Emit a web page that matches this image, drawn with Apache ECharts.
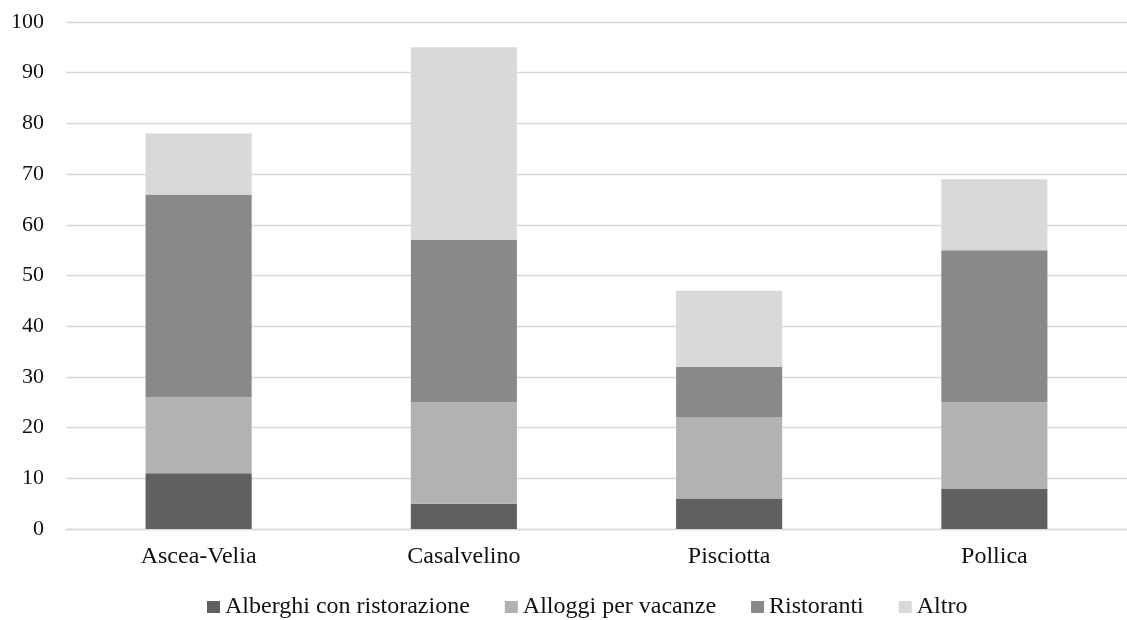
<!DOCTYPE html>
<html><head><meta charset="utf-8">
<script src="https://cdn.jsdelivr.net/npm/echarts@6/dist/echarts.min.js"></script>
<style>html,body{margin:0;padding:0;background:#fff;overflow:hidden}#c{width:1127px;height:620px}</style>
</head><body><div id="c"></div>
<script>
const categories = ['Ascea-Velia', 'Casalvelino', 'Pisciotta', 'Pollica'];
const alberghi = [11, 5, 6, 8];
const alloggi = [15, 20, 16, 17];
const ristoranti = [40, 32, 10, 30];
const altro = [12, 38, 15, 14];
const seriesNames = ['Alberghi con ristorazione', 'Alloggi per vacanze', 'Ristoranti', 'Altro'];
const colors = ['#606060', '#b2b2b2', '#898989', '#d9d9d9'];
const font = 'Liberation Serif';
const chart = echarts.init(document.getElementById('c'));
const data = [alberghi, alloggi, ristoranti, altro];
chart.setOption({
  animation: false,
  textStyle: { fontFamily: font },
  grid: { left: 66, right: -11, top: 22, bottom: 91 },
  legend: {
    top: 595, left: 207, padding: 0, itemWidth: 13, itemHeight: 12, itemGap: 35,
    icon: 'rect',
    textStyle: { fontFamily: font, fontSize: 24, color: '#111' },
    data: seriesNames
  },
  xAxis: {
    type: 'category', data: categories,
    axisLine: { lineStyle: { color: '#d9d9d9', width: 1.3 } },
    axisTick: { show: false },
    axisLabel: { fontFamily: font, fontSize: 24, color: '#111', margin: 16 }
  },
  yAxis: {
    type: 'value', min: 0, max: 100, interval: 10,
    axisLine: { show: false }, axisTick: { show: false },
    splitLine: { lineStyle: { color: '#d9d9d9', width: 1.3 } },
    axisLabel: { fontFamily: font, fontSize: 22, color: '#111', margin: 22 }
  },
  series: seriesNames.map((n, i) => ({
    name: n, type: 'bar', stack: 's', data: data[i], barWidth: '40%',
    itemStyle: { color: colors[i] }
  }))
});
</script></body></html>
